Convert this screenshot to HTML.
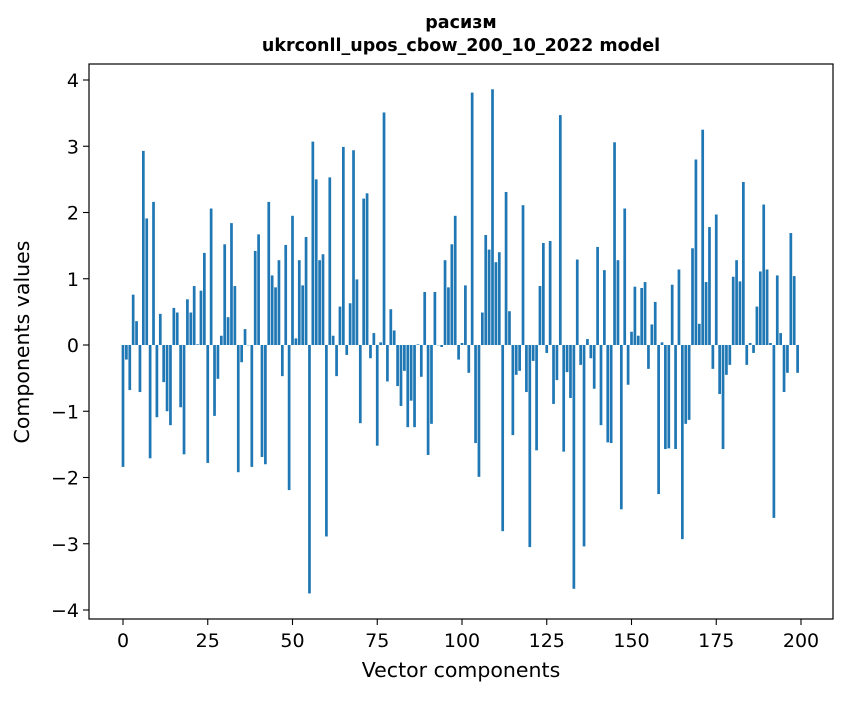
<!DOCTYPE html>
<html><head><meta charset="utf-8"><style>
body{margin:0;background:#fff;}
svg text{font-family:"DejaVu Sans","Liberation Sans",sans-serif;fill:#000;}
</style></head><body>
<svg id="chart" width="847" height="696" xmlns="http://www.w3.org/2000/svg">
<rect width="847" height="696" fill="#fff"/>
<text x="461" y="28" text-anchor="middle" font-size="17.5" font-weight="bold">расизм</text>
<text x="461" y="51" text-anchor="middle" font-size="17.5" font-weight="bold">ukrconll_upos_cbow_200_10_2022 model</text>
<g id="bars"></g>
<g id="axes"></g>
<rect x="89" y="64" width="744" height="555" fill="none" stroke="#000" stroke-width="1.2"/>
<text x="461" y="677" text-anchor="middle" font-size="20.5">Vector components</text>
<text transform="translate(29,342) rotate(-90)" text-anchor="middle" font-size="20.5">Components values</text>
</svg>
<script>
const values = [
-1.84,-0.22,-0.68,0.76,0.36,-0.71,2.93,1.91,-1.71,2.16,
-1.09,0.47,-0.56,-1.0,-1.21,0.56,0.49,-0.94,-1.65,0.69,
0.49,0.89,0.01,0.82,1.39,-1.78,2.06,-1.07,-0.51,0.14,
1.52,0.42,1.84,0.89,-1.92,-0.26,0.24,0.0,-1.84,1.42,
1.67,-1.69,-1.8,2.16,1.05,0.87,1.28,-0.47,1.51,-2.19,
1.95,0.1,1.28,0.9,1.63,-3.75,3.07,2.5,1.28,1.37,
-2.89,2.53,0.14,-0.47,0.58,2.99,-0.15,0.63,2.94,0.99,
-1.18,2.21,2.29,-0.2,0.18,-1.52,0.04,3.51,-0.55,0.54,
0.22,-0.62,-0.92,-0.39,-1.24,-0.84,-1.24,0.01,-0.48,0.8,
-1.66,-1.19,0.8,0.0,-0.03,1.28,0.87,1.52,1.95,-0.22,
0.03,0.9,-0.42,3.81,-1.48,-1.99,0.49,1.66,1.44,3.86,
1.25,1.4,-2.81,2.31,0.51,-1.36,-0.45,-0.39,2.11,-0.71,
-3.05,-0.24,-1.59,0.89,1.54,-0.12,1.57,-0.89,-0.53,3.47,
-1.61,-0.41,-0.8,-3.68,1.29,-0.3,-3.04,0.09,-0.2,-0.66,
1.48,-1.21,1.13,-1.47,-1.48,3.06,1.28,-2.48,2.06,-0.6,
0.2,0.88,0.14,0.86,0.95,-0.36,0.31,0.65,-2.25,0.04,
-1.57,-1.56,0.91,-1.57,1.14,-2.93,-1.19,-1.13,1.46,2.8,
0.32,3.25,0.95,1.78,-0.36,1.97,-0.74,-1.57,-0.45,-0.3,
1.03,1.28,0.96,2.46,-0.3,0.03,-0.12,0.58,1.11,2.12,
1.14,0.03,-2.61,1.05,0.18,-0.71,-0.42,1.69,1.04,-0.42
];
const xTicks = [0,25,50,75,100,125,150,175,200];
const yTicks = [-4,-3,-2,-1,0,1,2,3,4];
const NS = 'http://www.w3.org/2000/svg';
function xScale(v){ return 123 + v*(801-123)/200; }
function yScale(v){ return 345 - v*66.25; }
const bars = document.getElementById('bars');
values.forEach((v,i)=>{
  const r = document.createElementNS(NS,'rect');
  
  
  const x0 = xScale(i-0.4), x1 = xScale(i+0.4);
  const y0 = yScale(Math.max(v,0)), y1 = yScale(Math.min(v,0));
  r.setAttribute('x', x0); r.setAttribute('width', x1-x0);
  r.setAttribute('y', y0); r.setAttribute('height', Math.max(y1-y0,0.3));
  r.setAttribute('fill', '#1f77b4');
  bars.appendChild(r);
});
const axes = document.getElementById('axes');
xTicks.forEach(t=>{
  const l = document.createElementNS(NS,'line');
  
  
  l.setAttribute('x1', xScale(t)); l.setAttribute('x2', xScale(t));
  l.setAttribute('y1', 619); l.setAttribute('y2', 625);
  l.setAttribute('stroke', '#000'); l.setAttribute('stroke-width', '1.1');
  axes.appendChild(l);
  const tx = document.createElementNS(NS,'text');
  
  
  tx.setAttribute('x', xScale(t)); tx.setAttribute('y', 647);
  tx.setAttribute('text-anchor', 'middle'); tx.setAttribute('font-size', '19');
  tx.textContent = String(t);
  axes.appendChild(tx);
});
yTicks.forEach(t=>{
  const l = document.createElementNS(NS,'line');
  
  
  l.setAttribute('x1', 83); l.setAttribute('x2', 89);
  l.setAttribute('y1', yScale(t)); l.setAttribute('y2', yScale(t));
  l.setAttribute('stroke', '#000'); l.setAttribute('stroke-width', '1.1');
  axes.appendChild(l);
  const tx = document.createElementNS(NS,'text');
  
  
  tx.setAttribute('x', 79); tx.setAttribute('y', yScale(t)+7);
  tx.setAttribute('text-anchor', 'end'); tx.setAttribute('font-size', '19');
  tx.textContent = t < 0 ? '\u2212' + Math.abs(t) : String(t);
  axes.appendChild(tx);
});
</script>
</body></html>
